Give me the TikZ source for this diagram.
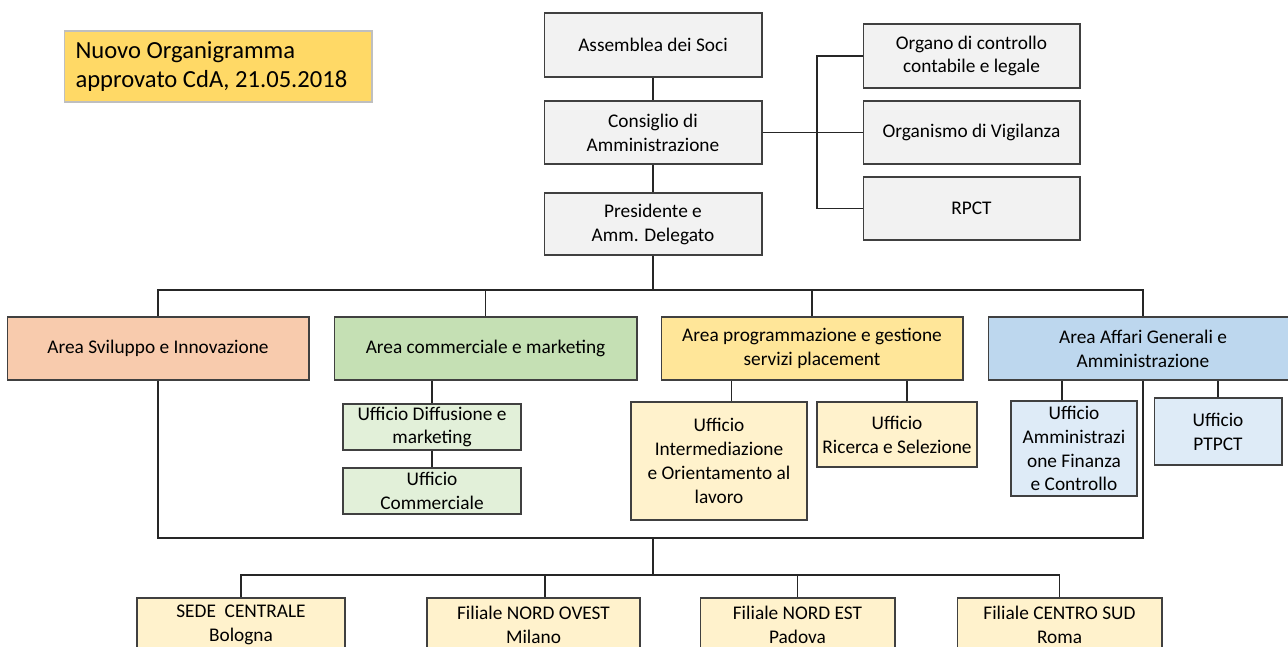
\documentclass[tikz,border=0pt]{standalone}
\usepackage{fontspec}
\setmainfont{Carlito}

\definecolor{oro}{HTML}{FFD966}
\definecolor{grigiobox}{HTML}{F2F2F2}
\definecolor{arancio}{HTML}{F8CBAD}
\definecolor{verde}{HTML}{C5E0B4}
\definecolor{verdechiaro}{HTML}{E2F0D9}
\definecolor{giallo}{HTML}{FFE699}
\definecolor{giallochiaro}{HTML}{FFF2CC}
\definecolor{azzurro}{HTML}{BDD7EE}
\definecolor{azzurrochiaro}{HTML}{DEEBF7}

\begin{document}
\begin{tikzpicture}[x=0.02cm,y=-0.02cm,
	box/.style={draw=black!75,line width=0.6pt,align=center,inner sep=1pt,font=\fontsize{11}{13.6}\selectfont},
	organo/.style={box,fill=grigiobox},
	area/.style={box,minimum height=1.26cm},
	filiale/.style={box,fill=giallochiaro,minimum height=1.08cm},
	linea/.style={draw=black!85,line width=0.8pt}]

\useasboundingbox (0,0) rectangle (1288,646);
\clip (0,0) rectangle (1288,646);

\node[box,draw=black!25,fill=oro,text width=5.7cm,inner xsep=0.23cm,minimum height=1.42cm,align=flush left,font=\fontsize{14}{16.8}\selectfont] (titolo) at (218,66.5) {Nuovo Organigramma\\approvato CdA, 21.05.2018};

% organi
\node[organo,minimum width=4.36cm,minimum height=1.28cm] (assemblea) at (653,45) {Assemblea dei Soci};
\node[organo,minimum width=4.36cm,minimum height=1.26cm] (consiglio) at (653,132.5) {Consiglio di\\Amministrazione};
\node[organo,minimum width=4.36cm,minimum height=1.24cm] (presidente) at (653,224) {Presidente e\\Amm. Delegato};
\node[organo,minimum width=4.34cm,minimum height=1.28cm] (controllo) at (971.5,56) {Organo di controllo\\contabile e legale};
\node[organo,minimum width=4.34cm,minimum height=1.26cm] (vigilanza) at (971.5,132.5) {Organismo di Vigilanza};
\node[organo,minimum width=4.34cm,minimum height=1.26cm] (rpct) at (971.5,208.5) {RPCT};

% aree
\node[area,fill=arancio,minimum width=6.04cm] (sviluppo) at (158,348.5) {Area Sviluppo e Innovazione};
\node[area,fill=verde,minimum width=6.06cm] (commerciale) at (485.5,348.5) {Area commerciale e marketing};
\node[area,fill=giallo,minimum width=6.04cm] (placement) at (812,348.5) {Area programmazione e gestione\\servizi placement};
\node[area,fill=azzurro,minimum width=6.2cm] (affari) at (1143,348.5) {Area Affari Generali e\\Amministrazione};

% uffici
\node[box,fill=verdechiaro,minimum width=3.56cm,minimum height=0.92cm] (diffusione) at (432,427) {Ufficio Diffusione e\\marketing};
\node[box,fill=verdechiaro,minimum width=3.56cm,minimum height=0.92cm] (uffcomm) at (432,491) {Ufficio\\Commerciale};
\node[box,fill=giallochiaro,minimum width=3.52cm,minimum height=2.36cm] (intermed) at (719,461) {Ufficio\\Intermediazione\\e Orientamento al\\lavoro};
\node[box,fill=giallochiaro,minimum width=3.2cm,minimum height=1.3cm] (ricerca) at (897,434.5) {Ufficio\\Ricerca e Selezione};
\node[box,fill=azzurrochiaro,minimum width=2.52cm,minimum height=1.9cm] (finanza) at (1074,448.5) {Ufficio\\Amministrazi\\one Finanza\\e Controllo};
\node[box,fill=azzurrochiaro,minimum width=2.56cm,minimum height=1.34cm] (ptpct) at (1218,431.5) {Ufficio\\PTPCT};

% filiali
\node[filiale,minimum width=4.16cm] (sede) at (241,625) {SEDE\ \ CENTRALE\\Bologna};
\node[filiale,minimum width=4.26cm] (milano) at (533.5,625) {Filiale NORD OVEST\\Milano};
\node[filiale,minimum width=3.9cm] (padova) at (797.5,625) {Filiale NORD EST\\Padova};
\node[filiale,minimum width=4.1cm] (roma) at (1059.5,625) {Filiale CENTRO SUD\\Roma};

\coordinate (bracket) at (817,132.5);
\coordinate (busaree) at (653,290);
\coordinate (anello) at (653,538);
\coordinate (busfiliali) at (653,575);

\draw[linea] (assemblea) -- (consiglio);
\draw[linea] (consiglio) -- (presidente);
\draw[linea,line width=1.1pt] (consiglio.east) -- (vigilanza.west);
\draw[linea] (controllo.west) -| (bracket) |- (rpct.west);

\draw[linea] (presidente.south) -- (busaree);
\draw[linea] (sviluppo.north) |- (busaree) -| (affari.north);
\draw[linea] (commerciale.north) -- (commerciale.north |- busaree);
\draw[linea] (placement.north) -- (placement.north |- busaree);

\draw[linea] (diffusione.north) -- (diffusione.north |- commerciale.south);
\draw[linea] (diffusione) -- (uffcomm);
\draw[linea] (intermed.78) -- (intermed.78 |- placement.south);
\draw[linea] (ricerca.73) -- (ricerca.73 |- placement.south);
\draw[linea] (finanza.104) -- (finanza.104 |- affari.south);
\draw[linea] (ptpct.north) -- (ptpct.north |- affari.south);

\draw[linea] (sviluppo.south) |- (anello) -| (affari.south);
\draw[linea] (anello) -- (busfiliali);
\draw[linea] (sede.north) |- (busfiliali) -| (roma.north);
\draw[linea] (milano.67) -- (milano.67 |- busfiliali);
\draw[linea] (padova.north) -- (padova.north |- busfiliali);

\end{tikzpicture}
\end{document}
